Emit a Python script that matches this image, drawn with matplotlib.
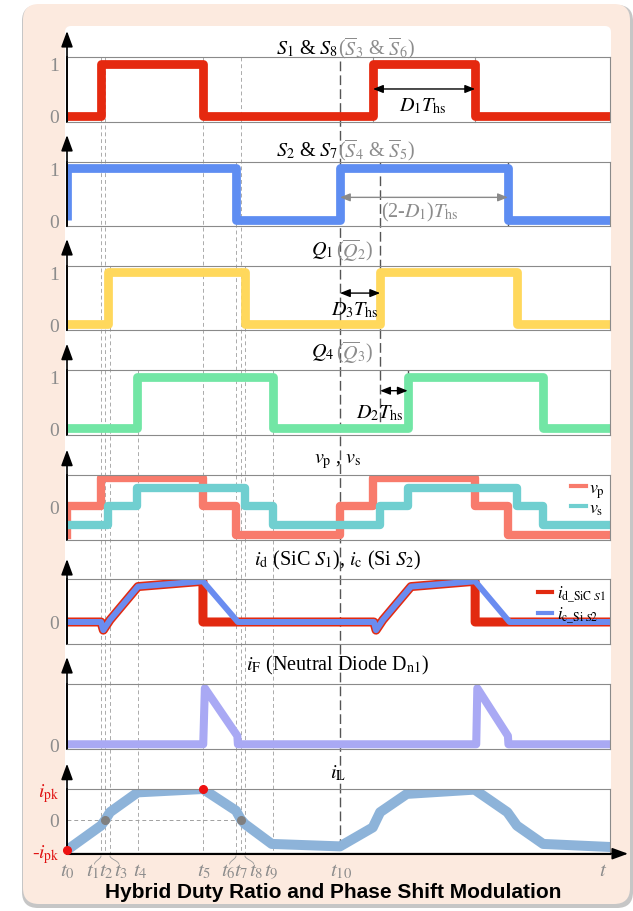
import numpy as np
import matplotlib
matplotlib.use('Agg')
import matplotlib.pyplot as plt
from matplotlib.patches import FancyBboxPatch
from matplotlib.transforms import Affine2D
from matplotlib.lines import Line2D

plt.rcParams['font.family'] = ['Liberation Serif', 'DejaVu Serif']
plt.rcParams['mathtext.fontset'] = 'stix'

W, H, DPI = 633, 912, 100

# ---------------- data (time in units where t10 = 100) ----------------
t_marks = [0, 12.45, 14.1, 15.75, 26.0, 49.8, 61.9, 63.7, 65.2, 75.5, 100.0]
t_names = [r'$t_{%d}$' % i for i in range(11)]
x_end = 198.9

s1_edges = [0, 12.45, 49.8, 112.1, 149.5, 198.9]
s1_levels = [0, 1, 0, 1, 0, 0]
s2_edges = [0, 0, 61.9, 100.0, 161.5, 198.9]
s2_levels = [0, 1, 0, 1, 0, 0]
q1_edges = [0, 15.0, 65.2, 114.7, 164.8, 198.9]
q1_levels = [0, 1, 0, 1, 0, 0]
q4_edges = [0, 25.6, 75.5, 124.8, 174.4, 198.9]
q4_levels = [0, 1, 0, 1, 0, 0]

vp_edges = [0, 0, 12.45, 49.8, 61.9, 100.0, 112.1, 149.5, 161.5, 198.9]
vp_levels = [-1, 0, 1, 0, -1, 0, 1, 0, -1, -1]
vs_edges = [0, 15.0, 25.6, 65.2, 75.5, 114.7, 124.8, 164.8, 174.4, 198.9]
vs_levels = [-0.65, 0, 0.65, 0, -0.65, 0, 0.65, 0, -0.65, -0.65]

id_t = [0, 12.45, 13.3, 15.75, 26.0, 49.8, 49.8, 112.4, 113.2, 115.7, 126.0, 149.5, 149.5, 198.9]
id_v = [0, 0, -0.2, 0.05, 0.87, 1.0, 0, 0, -0.2, 0.05, 0.87, 1.0, 0, 0]
ic_t = [0, 12.45, 13.3, 15.75, 26.0, 49.8, 62.6, 112.4, 113.2, 115.7, 126.0, 149.5, 162.1, 198.9]
ic_v = [0, 0, -0.2, 0.05, 0.87, 1.0, 0, 0, -0.2, 0.05, 0.87, 1.0, 0, 0]

iF_t = [0, 49.9, 50.5, 62.4, 62.6, 149.9, 150.3, 161.5, 161.7, 198.9]
iF_v = [0, 0, 1.0, 0.15, 0, 0, 1.0, 0.15, 0, 0]

iL_t = [0, 12.45, 14.1, 15.75, 25.9, 49.8, 61.9, 63.7, 65.2, 75.0, 100.0,
        112.0, 114.7, 124.5, 149.3, 161.3, 164.8, 174.4, 198.9]
iL_v = [-1, -0.2, 0, 0.24, 0.89, 1.0, 0.29, 0, -0.15, -0.8, -0.88,
        -0.26, 0.24, 0.84, 0.98, 0.24, -0.2, -0.8, -0.9]

# ---------------- layout ----------------
box_top = [58.3, 162.7, 266.7, 371.0, 475.7, 580.0, 684.7, 789.7]
box_bot = [122.7, 227.3, 331.3, 435.7, 540.7, 644.7, 749.7, 854.7]
arrow_tip = [32, 136, 240, 344.7, 450.7, 560, 658, 764.7]
title_y = [49, 150.5, 251, 353, 461.7, 560, 665, 773]
ylims = [(-0.12, 1.13)] * 4 + [(-1.153, 1.104), (-0.533, 1.056), (-0.079, 1.082), (-1.12, 1.01)]
x_left_px, x_right_px = 67, 610

GRAY_TXT = '#8C8C8C'
BOX = '#8A8A8A'
TFS = 14.5

fig = plt.figure(figsize=(W / DPI, H / DPI), dpi=DPI)
fig.patch.set_facecolor('white')

pix = Affine2D().scale(1 / DPI, -1 / DPI).translate(0, H / DPI) + fig.dpi_scale_trans


def rbox(x0, y0, x1, y1, r, color, z):
    p = FancyBboxPatch((x0, y0), x1 - x0, y1 - y0,
                       boxstyle='round,pad=0,rounding_size=%g' % r,
                       transform=pix, facecolor=color, edgecolor='none', zorder=z)
    fig.add_artist(p)


rbox(22, 6, 633, 909, 16, '#C6C6C6', -12)
rbox(23, 5, 630, 905, 16, '#FCEADF', -11)
rbox(65, 27, 611, 856, 6, 'white', -10)

left = x_left_px / W
width = (x_right_px - x_left_px) / W

# overlay axes (pixel y) for guide lines and labels
ov = fig.add_axes([left, 0, width, 1], zorder=-1)
ov.set_xlim(0, x_end)
ov.set_ylim(H, 0)
ov.axis('off')
ov.patch.set_visible(False)

start_panel = [0, 0, 0, 2, 3, 0, 1, 0, 2, 3]
for i in range(1, 10):
    ov.plot([t_marks[i], t_marks[i]], [box_top[start_panel[i]], 855],
            color='#ABABAB', lw=0.7, ls=(0, (4, 3)))
dark = dict(color='#555555', lw=1.0, ls=(0, (7, 3)))
ov.plot([t_marks[10], t_marks[10]], [box_top[0] + 4, 849], **dark)
ov.plot([q1_edges[3], q1_edges[3]], [box_top[1], 432], **dark)
ov.plot([q4_edges[3], q4_edges[3]], [box_top[3], 432], **dark)
ov.plot([s2_edges[4], s2_edges[4]], [box_top[1], box_bot[1]], **dark)
for xx in (s1_edges[3], s1_edges[4]):
    ov.plot([xx, xx], [box_top[0], box_bot[0]], color='#9A9A9A', lw=0.8)

# t labels and braces
t_label_shift = [0, -2.95, 0.5, 4.05, 0.7, 0.4, -2.9, 0, 4.0, -0.8, 0.4]
for i in range(11):
    xl = t_marks[i] + t_label_shift[i]
    ov.text(xl, 872, t_names[i], ha='center', va='center', fontsize=15, color=GRAY_TXT)
s = np.linspace(0, 1, 25)
for i in (1, 3, 6, 8):
    x0 = t_marks[i]
    x1 = t_marks[i] + t_label_shift[i] * 0.8
    xs = x0 + (x1 - x0) * (3 * s ** 2 - 2 * s ** 3)
    ys = 857 + 8 * s
    ov.plot(xs, ys, color='#999999', lw=0.6)
ov.text(x_end - 2.6, 872, r'$t$', ha='center', va='center', fontsize=15, color=GRAY_TXT)

# titles
split_a = 99.3
split_b = 98.5
ov.text(split_a, title_y[0], r'$S_1$ & $S_8$', ha='right', va='center', fontsize=TFS, color='k')
ov.text(split_a, title_y[0], r'($\overline{S}_3$ & $\overline{S}_6$)', ha='left', va='center', fontsize=TFS, color=GRAY_TXT)
ov.text(split_a, title_y[1], r'$S_2$ & $S_7$', ha='right', va='center', fontsize=TFS, color='k')
ov.text(split_a, title_y[1], r'($\overline{S}_4$ & $\overline{S}_5$)', ha='left', va='center', fontsize=TFS, color=GRAY_TXT)
ov.text(split_b, title_y[2], r'$Q_1$ ', ha='right', va='center', fontsize=TFS, color='k')
ov.text(split_b, title_y[2], r'($\overline{Q}_2$)', ha='left', va='center', fontsize=TFS, color=GRAY_TXT)
ov.text(split_b, title_y[3], r'$Q_4$ ', ha='right', va='center', fontsize=TFS, color='k')
ov.text(split_b, title_y[3], r'($\overline{Q}_3$)', ha='left', va='center', fontsize=TFS, color=GRAY_TXT)
mid = 99.3
ov.text(mid, title_y[4], r'$v_{\rm p}$ , $v_{\rm s}$', ha='center', va='center', fontsize=TFS)
ov.text(mid, title_y[5], r'$i_{\rm d}$ (SiC $S_1$), $i_{\rm c}$ (Si $S_2$)', ha='center', va='center', fontsize=TFS)
ov.text(mid, title_y[6], r'$i_{\rm F}$ (Neutral Diode D$_{\rm n1}$)', ha='center', va='center', fontsize=TFS)
ov.text(mid, title_y[7], r'$i_{\rm L}$', ha='center', va='center', fontsize=TFS)

axes = []
for k in range(8):
    top, bot = box_top[k], box_bot[k]
    ax = fig.add_axes([left, 1 - bot / H, width, (bot - top) / H], zorder=1)
    ax.set_xlim(0, x_end)
    ax.set_ylim(*ylims[k])
    ax.patch.set_visible(False)
    for sp in ('top', 'right', 'bottom'):
        ax.spines[sp].set_color(BOX)
        ax.spines[sp].set_linewidth(0.8)
    ax.spines['left'].set_color('k')
    ax.spines['left'].set_linewidth(1.2)
    ax.set_xticks([])
    ax.tick_params(axis='y', length=0, pad=5.5, labelsize=14, labelcolor=GRAY_TXT)
    tipf = (bot - arrow_tip[k]) / (bot - top)
    ax.annotate('', xy=(0, tipf), xytext=(0, 0), xycoords='axes fraction',
                arrowprops=dict(arrowstyle='-|>,head_length=0.6,head_width=0.22', color='k',
                                lw=1.2, mutation_scale=16, shrinkA=0, shrinkB=0),
                annotation_clip=False)
    axes.append(ax)

# switch panels
sw = [(s1_edges, s1_levels, '#E5290F'), (s2_edges, s2_levels, '#5E8DF2'),
      (q1_edges, q1_levels, '#FFD85C'), (q4_edges, q4_levels, '#72E6A5')]
for k, (e, l, c) in enumerate(sw):
    ax = axes[k]
    ax.step(e, l, where='post', color=c, lw=6.3, solid_joinstyle='round', solid_capstyle='butt')
    ax.set_yticks([0, 1])
    ax.set_yticklabels(['0', '1'])

arr = dict(arrowstyle='<|-|>,head_length=0.5,head_width=0.2', lw=1.0, mutation_scale=12,
           shrinkA=0, shrinkB=0)
axes[0].annotate('', xy=(s1_edges[4], 0.515), xytext=(s1_edges[3], 0.515),
                 arrowprops=dict(color='k', **arr))
axes[0].text(130.2, 0.2, r'$D_1T_{\rm hs}$', ha='center', va='center', fontsize=TFS)
axes[1].annotate('', xy=(s2_edges[4], 0.44), xytext=(s2_edges[3], 0.44),
                 arrowprops=dict(color='#8A8A8A', **arr))
axes[1].text(129.2, 0.17, r'(2-$D_1$)$T_{\rm hs}$', ha='center', va='center', fontsize=TFS, color=GRAY_TXT)
axes[2].annotate('', xy=(q1_edges[3], 0.60), xytext=(t_marks[10], 0.60),
                 arrowprops=dict(color='k', **arr))
axes[2].text(105.5, 0.28, r'$D_3T_{\rm hs}$', ha='center', va='center', fontsize=TFS)
axes[3].annotate('', xy=(q4_edges[3], 0.73), xytext=(q1_edges[3], 0.73),
                 arrowprops=dict(color='k', **arr))
axes[3].text(114.7, 0.31, r'$D_2T_{\rm hs}$', ha='center', va='center', fontsize=TFS)

# vp, vs
ax = axes[4]
ax.step(vp_edges, vp_levels, where='post', color='#F87B6C', lw=6.0, solid_joinstyle='round')
ax.step(vs_edges, vs_levels, where='post', color='#70CFD0', lw=6.0, solid_joinstyle='round')
ax.set_yticks([0])
ax.set_yticklabels(['0'])
ax.legend([Line2D([], [], color='#F87B6C', lw=3), Line2D([], [], color='#70CFD0', lw=3)],
          [r'$v_{\rm p}$', r'$v_{\rm s}$'], loc='upper right', frameon=False, fontsize=13,
          handlelength=0.8, handletextpad=0.2, labelspacing=0.0, borderaxespad=0.1, borderpad=0.15)

# id, ic
ax = axes[5]
ax.plot(id_t, id_v, color='#E22A10', lw=6.5, solid_joinstyle='round')
ax.plot(ic_t, ic_v, color='#6A8CF0', lw=4.3, solid_joinstyle='round')
ax.set_yticks([0])
ax.set_yticklabels(['0'])
ax.legend([Line2D([], [], color='#E22A10', lw=3), Line2D([], [], color='#6A8CF0', lw=3)],
          [r'$i_{\mathrm{d\_SiC}\ S1}$', r'$i_{\mathrm{c\_Si}\ S2}$'], loc='upper right',
          frameon=False, fontsize=12, handlelength=0.8, handletextpad=0.3, labelspacing=0.05,
          borderaxespad=0.1, borderpad=0.15)

# iF
ax = axes[6]
ax.plot(iF_t, iF_v, color='#A9A9F4', lw=5.8, solid_joinstyle='round')
ax.set_yticks([0])
ax.set_yticklabels(['0'])

# iL
ax = axes[7]
ax.plot([0, t_marks[5]], [1, 1], color='#A0A0A0', lw=0.7, ls=(0, (4, 3)))
ax.plot([0, t_marks[7]], [0, 0], color='#A0A0A0', lw=0.7, ls=(0, (4, 3)))
ax.plot(iL_t, iL_v, color='#8DB3D9', lw=7.2, solid_joinstyle='round')
ax.plot([iL_t[0], iL_t[5]], [iL_v[0], iL_v[5]], 'o', color='#EE1111', ms=5.5, clip_on=False, zorder=5)
ax.plot([iL_t[2], iL_t[7]], [iL_v[2], iL_v[7]], 'o', color='#808080', ms=5.5, clip_on=False, zorder=5)
ax.set_yticks([-1, 0, 1])
ax.set_yticklabels([r'-$i_{\rm pk}$', '0', r'$i_{\rm pk}$'])
tl = ax.get_yticklabels()
tl[0].set_color('#E01010')
tl[2].set_color('#E01010')
ax.spines['bottom'].set_color('k')
ax.annotate('', xy=((628 - x_left_px) / (x_right_px - x_left_px), 0), xytext=(0, 0),
            xycoords='axes fraction',
            arrowprops=dict(arrowstyle='-|>,head_length=0.6,head_width=0.22', color='k',
                            lw=1.2, mutation_scale=16, shrinkA=0, shrinkB=0),
            annotation_clip=False)

fig.text(333 / W, 1 - 893 / H, 'Hybrid Duty Ratio and Phase Shift Modulation',
         family='Liberation Sans', weight='bold', fontsize=15, ha='center', va='center')

fig.savefig('out.png', dpi=DPI)
